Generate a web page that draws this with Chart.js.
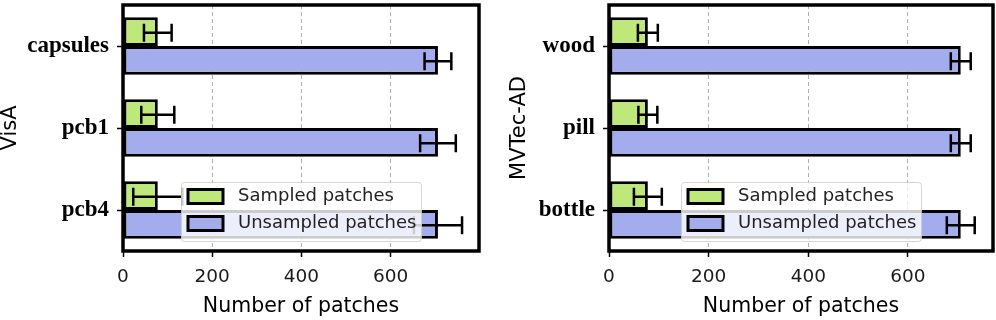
<!DOCTYPE html>
<html>
<head>
<meta charset="utf-8">
<script src="https://cdn.jsdelivr.net/npm/chart.js@4.4.1/dist/chart.umd.min.js"></script>
<style>
    html, body { margin: 0; padding: 0; background: #fff; }
    #wrap { position: relative; width: 996px; height: 320px; overflow: hidden; }
    canvas { position: absolute; top: 0; }
    #visaChart { left: 0; }
    #mvtecChart { left: 496px; }
</style>
</head>
<body>
<div id="wrap">
    <canvas id="visaChart" width="496" height="320"></canvas>
    <canvas id="mvtecChart" width="500" height="320"></canvas>
</div>
<script>
// VisA panel (left)
const visaCategories = ['capsules', 'pcb1', 'pcb4'];
const visaSampled = [78, 78, 78];
const visaSampledErr = [31, 37, 55];
const visaUnsampled = [706, 706, 706];
const visaUnsampledErr = [30, 40, 54];

// MVTec-AD panel (right)
const mvtecCategories = ['wood', 'pill', 'bottle'];
const mvtecSampled = [78, 78, 78];
const mvtecSampledErr = [20, 19, 28];
const mvtecUnsampled = [706, 706, 706];
const mvtecUnsampledErr = [20, 20, 28];

const xTickValues = [0, 200, 400, 600];
const seriesLabels = ['Sampled patches', 'Unsampled patches'];
const seriesColors = ['#bfe87a', '#a3acec'];

// Draws error bars on every bar, then the black box around the plot
const errorBarsPlugin = {
    id: 'errorBars',
    afterDatasetsDraw(chart) {
        const ctx = chart.ctx;
        const xs = chart.scales.x;
        ctx.save();
        ctx.strokeStyle = '#000';
        ctx.lineWidth = 2.5;
        chart.data.datasets.forEach((ds, di) => {
            const meta = chart.getDatasetMeta(di);
            meta.data.forEach((bar, i) => {
                const v = ds.data[i];
                const e = ds.errors[i];
                const x0 = xs.getPixelForValue(v - e);
                const x1 = xs.getPixelForValue(v + e);
                const y = bar.y + 1;
                ctx.beginPath();
                ctx.moveTo(x0, y); ctx.lineTo(x1, y);
                ctx.moveTo(x0, y - 9); ctx.lineTo(x0, y + 9);
                ctx.moveTo(x1, y - 9); ctx.lineTo(x1, y + 9);
                ctx.stroke();
            });
        });
        // plot frame
        const a = chart.chartArea;
        ctx.lineWidth = 3.5;
        ctx.strokeRect(a.left, a.top, a.right - a.left, a.bottom - a.top);
        ctx.restore();
    }
};

// Legend box inside the plot, lower center
const boxLegendPlugin = {
    id: 'boxLegend',
    afterDraw(chart) {
        const a = chart.chartArea;
        const ctx = chart.ctx;
        const w = 240, h = 59;
        const x = Math.round((a.left + a.right) / 2 - w / 2);
        const y = Math.round(a.bottom - 10 - h);
        ctx.save();
        ctx.fillStyle = 'rgba(255,255,255,0.8)';
        ctx.strokeStyle = 'rgba(204,204,204,0.8)';
        ctx.lineWidth = 1;
        ctx.beginPath();
        ctx.roundRect(x + 0.5, y + 0.5, w, h, 3);
        ctx.fill();
        ctx.stroke();
        chart.data.datasets.forEach((ds, i) => {
            const cy = y + 14.5 + i * 27;
            ctx.fillStyle = ds.backgroundColor;
            ctx.fillRect(x + 7, cy - 7, 35, 14);
            ctx.strokeStyle = '#000';
            ctx.lineWidth = 3;
            ctx.strokeRect(x + 7, cy - 7, 35, 14);
            ctx.fillStyle = '#222';
            ctx.font = '18px "DejaVu Sans"';
            ctx.textBaseline = 'middle';
            ctx.textAlign = 'left';
            ctx.fillText(ds.label, x + 57, cy);
        });
        ctx.restore();
    }
};

function makePanel(canvasId, categories, sampled, sampledErr, unsampled, unsampledErr, yTitle, pad) {
    const ctx = document.getElementById(canvasId).getContext('2d');

    // x limit like matplotlib autoscale: largest error bar end plus 5%
    let maxEnd = 0;
    sampled.forEach((v, i) => { maxEnd = Math.max(maxEnd, v + sampledErr[i]); });
    unsampled.forEach((v, i) => { maxEnd = Math.max(maxEnd, v + unsampledErr[i]); });
    const xMax = maxEnd * 1.05;

    return new Chart(ctx, {
        type: 'bar',
        data: {
            labels: categories,
            datasets: [{
                label: seriesLabels[0],
                data: sampled,
                errors: sampledErr,
                backgroundColor: seriesColors[0],
                borderColor: '#000',
                borderWidth: 3,
                borderSkipped: false
            }, {
                label: seriesLabels[1],
                data: unsampled,
                errors: unsampledErr,
                backgroundColor: seriesColors[1],
                borderColor: '#000',
                borderWidth: 3,
                borderSkipped: false
            }]
        },
        options: {
            indexAxis: 'y',
            responsive: false,
            animation: false,
            categoryPercentage: 0.7,
            barPercentage: 1.0,
            layout: { padding: { left: pad.left, right: pad.right, top: 5, bottom: 0 } },
            plugins: {
                legend: { display: false },
                tooltip: { enabled: false }
            },
            scales: {
                x: {
                    type: 'linear',
                    min: 0,
                    max: xMax,
                    afterBuildTicks: s => { s.ticks = xTickValues.map(v => ({ value: v })); },
                    afterFit: s => { s.height = 69; },
                    grid: {
                        color: '#b0b0b0',
                        lineWidth: 1,
                        tickLength: 6,
                        tickColor: '#000',
                        tickWidth: 1.5
                    },
                    border: { display: false, dash: [4, 3] },
                    ticks: {
                        font: { family: 'DejaVu Sans', size: 18.5 },
                        color: '#1a1a1a',
                        padding: 9,
                        maxRotation: 0
                    },
                    title: {
                        display: true,
                        text: 'Number of patches',
                        font: { family: 'DejaVu Sans', size: 20.5 },
                        color: '#000',
                        padding: { top: 0, bottom: 1 }
                    }
                },
                y: {
                    type: 'category',
                    offset: true,
                    afterFit: s => {
                        s.width = pad.axis;
                        s.paddingTop = 0;
                        s.paddingBottom = 0;
                    },
                    grid: {
                        offset: false,
                        drawOnChartArea: false,
                        tickLength: 6,
                        tickColor: '#000',
                        tickWidth: 1.5
                    },
                    border: { display: false },
                    ticks: {
                        font: { family: 'Liberation Serif', size: 23, weight: 'bold' },
                        color: '#000',
                        padding: 8
                    },
                    title: {
                        display: true,
                        text: yTitle,
                        font: { family: 'DejaVu Sans', size: 21, lineHeight: 1 },
                        color: '#000',
                        padding: 0
                    }
                }
            }
        },
        plugins: [errorBarsPlugin, boxLegendPlugin]
    });
}

document.addEventListener('DOMContentLoaded', function() {
    makePanel('visaChart', visaCategories, visaSampled, visaSampledErr,
        visaUnsampled, visaUnsampledErr, 'VisA', { left: 0, right: 17, axis: 123 });
    makePanel('mvtecChart', mvtecCategories, mvtecSampled, mvtecSampledErr,
        mvtecUnsampled, mvtecUnsampledErr, 'MVTec-AD', { left: 13, right: 3, axis: 100 });
});
</script>
</body>
</html>
